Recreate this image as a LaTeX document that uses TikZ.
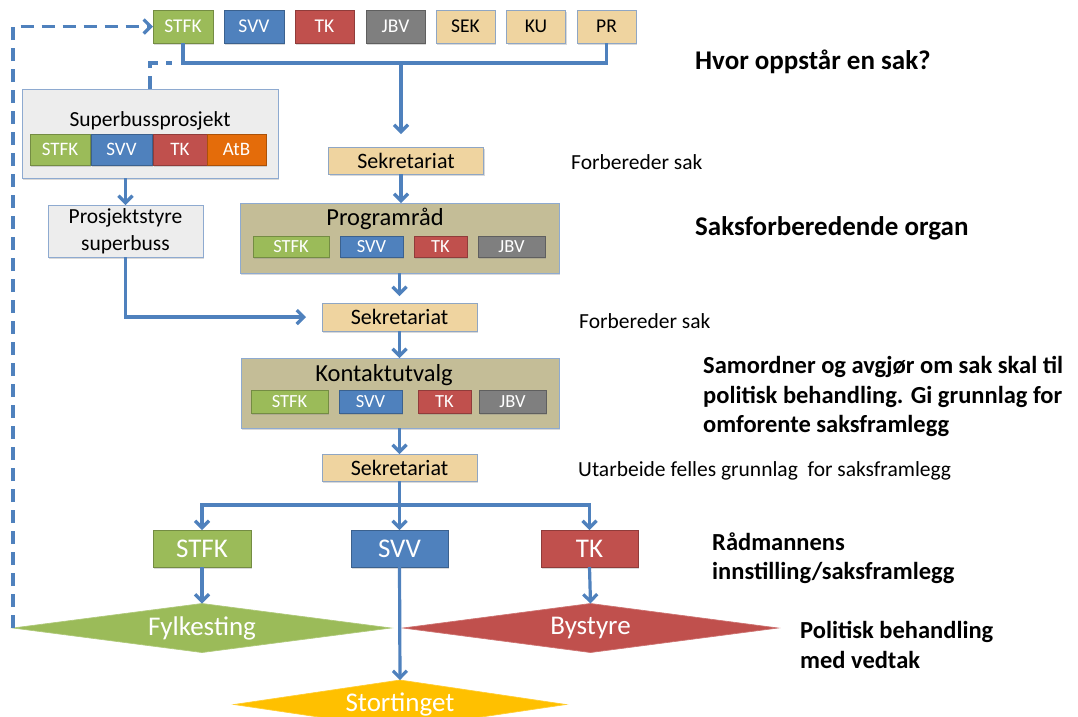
\documentclass[tikz,border=0pt]{standalone}
\usepackage{fontspec}
\setmainfont{Carlito}
\usetikzlibrary{arrows.meta,shapes.geometric,shadows}
\definecolor{cgreen}{HTML}{9BBB59}
\definecolor{cblue}{HTML}{4F81BD}
\definecolor{cred}{HTML}{C0504D}
\definecolor{cgray}{HTML}{7F7F7F}
\definecolor{corange}{HTML}{E46C0A}
\definecolor{cgold}{HTML}{FFC000}
\definecolor{parch}{HTML}{EFD4A0}
\definecolor{parchB}{HTML}{8FA6C4}
\definecolor{olive}{HTML}{C4BD97}
\definecolor{frameB}{HTML}{8EAAD0}
\definecolor{lgray}{HTML}{EDEDED}
\definecolor{lineblue}{HTML}{4F81BD}
\tikzset{
  base/.style={inner sep=0pt, outer sep=0pt, line width=0.7pt},
  shad/.style={drop shadow={shadow xshift=1.2pt, shadow yshift=-1.6pt, opacity=0.3}},
  cbox/.style={base, shad, fill=#1, draw=#1!75!black, text=white},
  pbox/.style={base, shad, fill=parch, draw=parchB, text=black},
  fs/.style={font=\fontsize{#1}{#1}\selectfont},
  conn/.style={draw=lineblue, line width=3.2pt},
  arr/.style={conn, -{Straight Barb[length=7pt,width=14pt]}},
  dashline/.style={draw=lineblue, line width=3.2pt, dash pattern=on 13pt off 8pt},
  diam/.style={base, diamond, shape aspect=7.6, fill=#1, draw=#1!80!white, text=white, fs=27},
  note/.style={anchor=west, inner sep=0pt, fs=21.5},
  head/.style={anchor=west, inner sep=0pt, align=left, font=\bfseries\fontsize{24.5}{29.5}\selectfont},
  bighead/.style={anchor=west, inner sep=0pt, font=\bfseries\fontsize{27}{32}\selectfont}
}
\begin{document}
\begin{tikzpicture}[x=1pt,y=-1pt]
\useasboundingbox (0,0) rectangle (1078,716);

% top row
\node[cbox=cgreen, minimum width=60pt, minimum height=33pt, fs=19.5] (tSTFK) at (183,26.5) {STFK};
\node[cbox=cblue,  minimum width=60pt, minimum height=33pt, fs=19.5] (tSVV)  at (254,26.5) {SVV};
\node[cbox=cred,   minimum width=59pt, minimum height=33pt, fs=19.5] (tTK)   at (324.5,26.5) {TK};
\node[cbox=cgray,  minimum width=59pt, minimum height=33pt, fs=19.5] (tJBV)  at (395.5,26.5) {JBV};
\node[pbox, minimum width=59pt, minimum height=33pt, fs=19.5] (tSEK) at (465.5,26.5) {SEK};
\node[pbox, minimum width=59pt, minimum height=33pt, fs=19.5] (tKU)  at (536,26.5) {KU};
\node[pbox, minimum width=59pt, minimum height=33pt, fs=19.5] (tPR)  at (606.5,26.5) {PR};

% Superbussprosjekt
\node[base, shad, fill=lgray, draw=frameB, minimum width=256pt, minimum height=89pt] (sb) at (150,133.5) {};
\node[fs=21.5, inner sep=0pt] (sbT) at (150,121) {Superbussprosjekt};
\node[cbox=cgreen,  minimum width=60pt, minimum height=31pt, fs=19] (sbSTFK) at (60,149.5) {STFK};
\node[cbox=cblue,   minimum width=61pt, minimum height=31pt, fs=19] (sbSVV)  at (121.5,149.5) {SVV};
\node[cbox=cred,    minimum width=54pt, minimum height=31pt, fs=19] (sbTK)   at (180,149.5) {TK};
\node[cbox=corange, minimum width=59pt, minimum height=31pt, fs=19] (sbAtB)  at (236.5,149.5) {AtB};

% Prosjektstyre
\node[base, shad, fill=lgray, draw=frameB, minimum width=155pt, minimum height=52pt, align=center, font=\fontsize{21.5}{27}\selectfont] (ps) at (125.5,231) {Prosjektstyre\\superbuss};

% Sekretariat 1
\node[pbox, minimum width=155pt, minimum height=27pt, fs=22] (sek1) at (406,160.5) {Sekretariat};

% Programraad
\node[base, shad, fill=olive, draw=frameB, minimum width=319pt, minimum height=70pt] (prog) at (399.5,238) {};
\node[fs=24.5, inner sep=0pt] (progT) at (385,219) {Programråd};
\node[cbox=cgreen, minimum width=76pt, minimum height=21pt, fs=18.5] (pSTFK) at (291,246.5) {STFK};
\node[cbox=cblue,  minimum width=63pt, minimum height=21pt, fs=18.5] (pSVV)  at (371.5,246.5) {SVV};
\node[cbox=cred,   minimum width=53pt, minimum height=21pt, fs=18.5] (pTK)   at (440.5,246.5) {TK};
\node[cbox=cgray,  minimum width=67pt, minimum height=21pt, fs=18.5] (pJBV)  at (511.5,246.5) {JBV};

% Sekretariat 2
\node[pbox, minimum width=155pt, minimum height=28pt, fs=22] (sek2) at (399.5,317) {Sekretariat};

% Kontaktutvalg
\node[base, shad, fill=olive, draw=frameB, minimum width=318pt, minimum height=70pt] (kont) at (400,393) {};
\node[fs=24.5, inner sep=0pt] (kontT) at (384,375) {Kontaktutvalg};
\node[cbox=cgreen, minimum width=77pt, minimum height=23pt, fs=18.5] (kSTFK) at (289.5,401.5) {STFK};
\node[cbox=cblue,  minimum width=63pt, minimum height=23pt, fs=18.5] (kSVV)  at (370.5,401.5) {SVV};
\node[cbox=cred,   minimum width=53pt, minimum height=23pt, fs=18.5] (kTK)   at (444.5,401.5) {TK};
\node[cbox=cgray,  minimum width=67pt, minimum height=23pt, fs=18.5] (kJBV)  at (512.5,401.5) {JBV};

% Sekretariat 3
\node[pbox, minimum width=155pt, minimum height=27pt, fs=22] (sek3) at (399.5,467.5) {Sekretariat};

% bottom boxes
\node[cbox=cgreen, minimum width=98pt, minimum height=37pt, fs=27] (bSTFK) at (202,548.5) {STFK};
\node[cbox=cblue,  minimum width=97pt, minimum height=37pt, fs=27] (bSVV)  at (399.5,548.5) {SVV};
\node[cbox=cred,   minimum width=97pt, minimum height=37pt, fs=27] (bTK)   at (589.5,548.5) {TK};

% diamonds
\node[diam=cgreen, minimum width=378pt, minimum height=49pt] (fylke) at (202,628) {Fylkesting};
\node[diam=cred,   minimum width=375pt, minimum height=49pt] (bystyre) at (590.5,628) {Bystyre};
\node[diam=cgold,  minimum width=332pt, minimum height=49pt] (storting) at (400,704.5) {Stortinget};

% connectors
\coordinate (bar) at (401,63);
\coordinate (dashEnd) at (172,63);
\coordinate (split) at (399.5,505);
\draw[conn, line join=miter] (tSTFK.south) |- (bar) -| (tPR.south);
\draw[arr, shorten >=13pt] (bar) -- (bar |- sek1.north);
\draw[dashline] (sb.north) |- (dashEnd);
\draw[dashline, -{Straight Barb[length=7pt,width=14pt]}] (fylke.west) |- (tSTFK.west);
\draw[arr] (sb.south -| ps.north) -- (ps.north);
\draw[arr, shorten >=16pt] (ps.south) |- (sek2.west);
\draw[arr] (sek1.south -| bar) -- (prog.north -| bar);
\draw[arr, shorten >=7pt] (prog.south) -- (sek2.north);
\draw[arr] (sek2.south) -- (kont.north -| sek2.south);
\draw[arr] (kont.south -| sek3.north) -- (sek3.north);
\draw[conn] (sek3.south) -- (split);
\draw[arr] (split) -| (bSTFK.north);
\draw[arr] (split) -| (bTK.north);
\draw[arr] (split) -- (bSVV.north);
\draw[arr] (bSTFK.south) -- (fylke.north);
\draw[arr] (bTK.south) -- (bystyre.north);
\draw[arr] (bSVV.south) -- (storting.north);

% notes
\node[bighead] (n1) at (695,62) {Hvor oppstår en sak?};
\node[note] (n2) at (571,162) {Forbereder sak};
\node[bighead] (n3) at (695,228) {Saksforberedende organ};
\node[note] (n4) at (579,321) {Forbereder sak};
\node[head] (n5) at (703,396.5) {Samordner og avgjør om sak skal til\\politisk behandling. Gi grunnlag for\\omforente saksframlegg};
\node[note] (n6) at (578,471) {Utarbeide felles grunnlag\ \ for saksframlegg};
\node[head] (n7) at (712,558) {Rådmannens\\innstilling/saksframlegg};
\node[head] (n8) at (800,645) {Politisk behandling\\med vedtak};
\end{tikzpicture}
\end{document}
